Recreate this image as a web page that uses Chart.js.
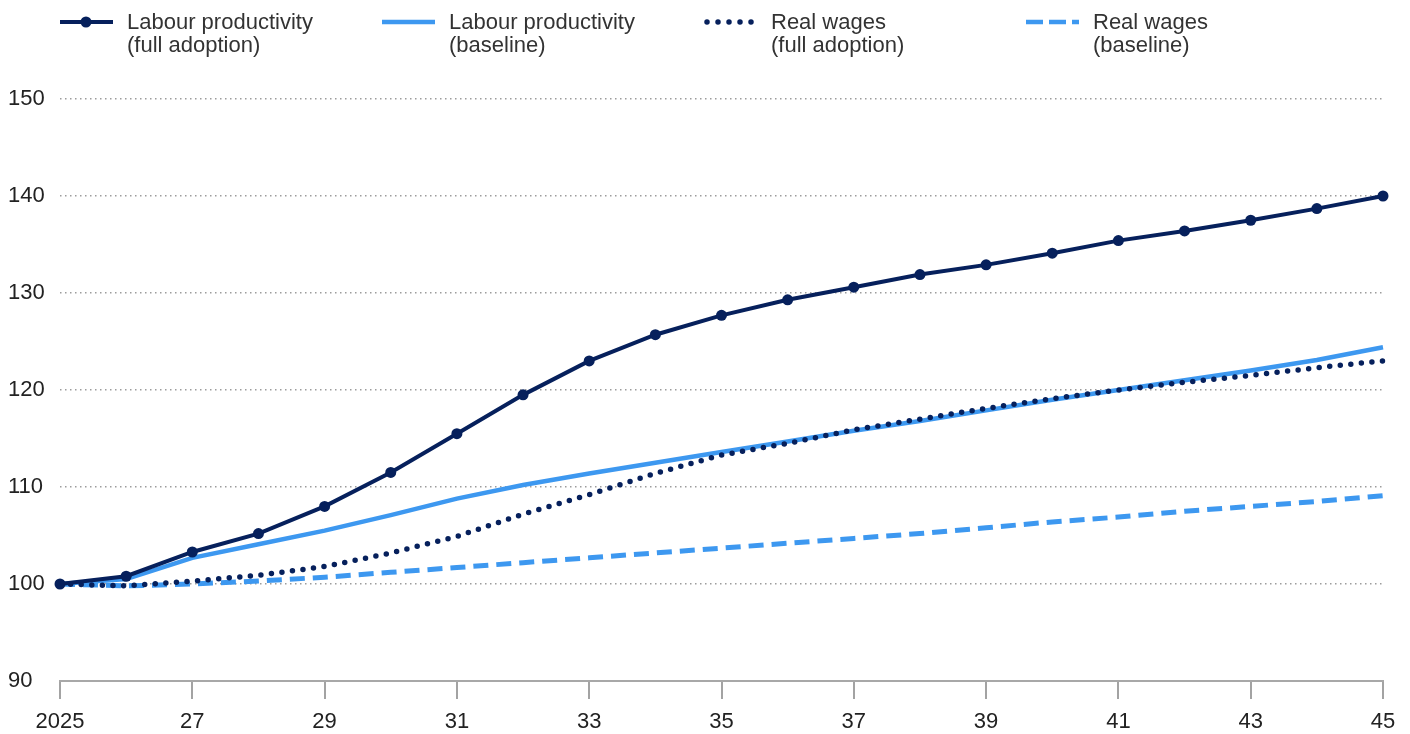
<!DOCTYPE html>
<html>
<head>
<meta charset="utf-8">
<script src="https://cdn.jsdelivr.net/npm/chart.js@4.4.1/dist/chart.umd.min.js"></script>
<style>
  html, body { margin: 0; padding: 0; background: #fff; }
  #wrap { position: relative; width: 1410px; height: 734px; }
  #legend { position: absolute; top: 0; left: 0; width: 1410px; height: 60px; }
  .item { position: absolute; top: 10px; font-family: "Liberation Sans", Arial, sans-serif;
          font-size: 22px; line-height: 23px; color: #333; }
  .item svg { position: absolute; top: 0px; }
  .item span { position: absolute; white-space: nowrap; }
</style>
</head>
<body>
<div id="wrap">
  <canvas id="myChart" width="1410" height="734"></canvas>
  <div id="legend"></div>
</div>
<script>
// Data
const years = [2025, 2026, 2027, 2028, 2029, 2030, 2031, 2032, 2033, 2034, 2035,
               2036, 2037, 2038, 2039, 2040, 2041, 2042, 2043, 2044, 2045];
const labourFull = [100, 100.8, 103.3, 105.2, 108.0, 111.5, 115.5, 119.5, 123.0, 125.7, 127.7,
                    129.3, 130.6, 131.9, 132.9, 134.1, 135.4, 136.4, 137.5, 138.7, 140.0];
const labourBase = [100, 100.5, 102.7, 104.1, 105.5, 107.1, 108.8, 110.2, 111.4, 112.5, 113.6,
                    114.7, 115.8, 116.8, 117.9, 119.0, 120.0, 121.0, 122.0, 123.1, 124.4];
const wagesFull = [100, 99.8, 100.3, 100.9, 101.8, 103.2, 104.9, 107.2, 109.2, 111.4, 113.3,
                   114.5, 115.9, 117.0, 118.1, 119.1, 120.0, 120.8, 121.5, 122.3, 123.0];
const wagesBase = [100, 99.8, 100.0, 100.3, 100.7, 101.2, 101.7, 102.2, 102.7, 103.2, 103.7,
                   104.2, 104.7, 105.2, 105.8, 106.4, 106.9, 107.5, 108.0, 108.5, 109.1];
const yTicks = [90, 100, 110, 120, 130, 140, 150];
const seriesNames = [
    ['Labour productivity', '(full adoption)'],
    ['Labour productivity', '(baseline)'],
    ['Real wages', '(full adoption)'],
    ['Real wages', '(baseline)']
];

const navy = '#06205c';
const blue = '#3d98f0';

let toPoints = function (vals) {
    return years.map((yr, i) => ({ x: yr, y: vals[i] }));
};

// Legend (html)
const legendSamples = [
    `<svg width="60" height="24"><line x1="0" y1="12" x2="53" y2="12" stroke="${navy}" stroke-width="4"/><circle cx="26" cy="12" r="5.5" fill="${navy}"/></svg>`,
    `<svg width="60" height="24"><line x1="0" y1="12" x2="53" y2="12" stroke="${blue}" stroke-width="4.5"/></svg>`,
    `<svg width="60" height="24"><line x1="3" y1="12" x2="50" y2="12" stroke="${navy}" stroke-width="5.5" stroke-linecap="round" stroke-dasharray="0 11"/></svg>`,
    `<svg width="60" height="24"><line x1="0" y1="12" x2="53" y2="12" stroke="${blue}" stroke-width="4.5" stroke-dasharray="17 6"/></svg>`
];
const legendLeft = [60, 382, 704, 1026];
seriesNames.forEach((name, i) => {
    let item = document.createElement('div');
    item.className = 'item';
    item.style.left = legendLeft[i] + 'px';
    item.innerHTML = legendSamples[i] + `<span style="left:67px">${name[0]}<br>${name[1]}</span>`;
    document.querySelector('#legend').appendChild(item);
});

// Chart
const data = {
    datasets: [
        {
            label: seriesNames[0].join(' '),
            data: toPoints(labourFull),
            borderColor: navy,
            backgroundColor: navy,
            borderWidth: 4,
            pointRadius: 5.5,
            pointBorderWidth: 0,
            pointBackgroundColor: navy,
            clip: 10
        },
        {
            label: seriesNames[2].join(' '),
            data: toPoints(wagesFull),
            borderColor: navy,
            borderWidth: 5.5,
            borderCapStyle: 'round',
            borderDash: [0, 10.6],
            pointRadius: 0,
            clip: 10
        },
        {
            label: seriesNames[1].join(' '),
            data: toPoints(labourBase),
            borderColor: blue,
            borderWidth: 4.5,
            pointRadius: 0,
            clip: 10
        },
        {
            label: seriesNames[3].join(' '),
            data: toPoints(wagesBase),
            borderColor: blue,
            borderWidth: 5,
            borderDash: [15, 8],
            pointRadius: 0,
            clip: 10
        }
    ]
};

const config = {
    type: 'line',
    data: data,
    options: {
        responsive: false,
        animation: false,
        layout: { padding: { top: 99, left: 8, right: 27, bottom: 0 } },
        plugins: { legend: { display: false }, tooltip: { enabled: false } },
        elements: { line: { tension: 0 } },
        scales: {
            x: {
                type: 'linear',
                min: 2025,
                max: 2045,
                afterFit: (scale) => { scale.height = 53; },
                ticks: {
                    stepSize: 2,
                    padding: 10,
                    color: '#222',
                    font: { family: 'Liberation Sans', size: 22 },
                    callback: (v) => v === 2025 ? '2025' : String(v).slice(2)
                },
                grid: { drawOnChartArea: false, tickLength: 18, color: '#a3a3a3', lineWidth: 2 },
                border: { display: true, color: '#a8a8a8', width: 2 }
            },
            y: {
                min: 90,
                max: 150,
                afterFit: (scale) => { scale.width = 52; },
                afterBuildTicks: (scale) => { scale.ticks = yTicks.map(v => ({ value: v })); },
                ticks: {
                    crossAlign: 'far',
                    color: '#222',
                    font: { family: 'Liberation Sans', size: 22 }
                },
                grid: { drawTicks: false, color: '#9c9c9c', lineWidth: 1.5 },
                border: { display: false, dash: [1.5, 3.5] }
            }
        }
    }
};

const myChart = new Chart(document.getElementById('myChart'), config);
</script>
</body>
</html>
